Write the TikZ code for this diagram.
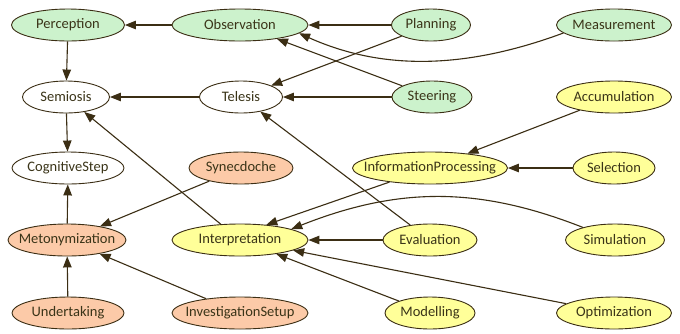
\documentclass[tikz,border=0pt]{standalone}
\usepackage{fontspec}
\setmainfont{Carlito}
\usetikzlibrary{shapes.geometric,arrows.meta}
\definecolor{edgec}{HTML}{3B2E14}
\definecolor{txtc}{HTML}{3A3418}
\definecolor{gfill}{HTML}{CCF2CC}
\definecolor{yfill}{HTML}{FFFF99}
\definecolor{ofill}{HTML}{FCCAA8}
\begin{document}
\begin{tikzpicture}[x=1pt,y=-1pt,
  concept/.style={ellipse, draw=edgec, line width=0.9pt, minimum height=32pt, inner sep=0pt, minimum width=#1},
  lbl/.style={font=\fontsize{14.5}{16}\selectfont, text=txtc, inner sep=0pt},
  gnode/.style={concept=#1, fill=gfill},
  ynode/.style={concept=#1, fill=yfill},
  onode/.style={concept=#1, fill=ofill},
  wnode/.style={concept=#1, fill=white},
  arr/.style={draw=edgec, line width=1.1pt, -{Triangle[length=11pt,width=8.5pt]}}]
\useasboundingbox[fill=white] (0,0) rectangle (680,333);
% nodes
\node[gnode=113pt, label={[lbl]center:Perception}] (perc) at (68,25) {};
\node[gnode=136pt, label={[lbl]center:Observation}] (obs) at (240,25) {};
\node[gnode=79pt, label={[lbl]center:Planning}] (plan) at (431,25) {};
\node[gnode=115pt, label={[lbl]center:Measurement}] (meas) at (614,25) {};
\node[wnode=87pt, label={[lbl]center:Semiosis}] (semi) at (66,97) {};
\node[wnode=83pt, label={[lbl]center:Telesis}] (tele) at (241,97) {};
\node[gnode=80pt, label={[lbl]center:Steering}] (steer) at (432,97) {};
\node[ynode=115pt, label={[lbl]center:Accumulation}] (accu) at (614,97) {};
\node[wnode=112pt, label={[lbl]center:CognitiveStep}] (cog) at (68,168) {};
\node[onode=104pt, label={[lbl]center:Synecdoche}] (syn) at (241,168) {};
\node[ynode=155pt, label={[lbl]center:InformationProcessing}] (info) at (430,168) {};
\node[ynode=82pt, label={[lbl]center:Selection}] (sel) at (614,168) {};
\node[onode=118pt, label={[lbl]center:Metonymization}] (meto) at (67,240) {};
\node[ynode=136pt, label={[lbl]center:Interpretation}] (interp) at (240,240) {};
\node[ynode=94pt, label={[lbl]center:Evaluation}] (eval) at (430,240) {};
\node[ynode=99pt, label={[lbl]center:Simulation}] (simu) at (615,240) {};
\node[onode=112pt, label={[lbl]center:Undertaking}] (under) at (68,313) {};
\node[onode=136pt, label={[lbl]center:InvestigationSetup}] (invest) at (240,313) {};
\node[ynode=90pt, label={[lbl]center:Modelling}] (model) at (430,313) {};
\node[ynode=115pt, label={[lbl]center:Optimization}] (optim) at (614,313) {};
% edges
\draw[arr] (obs) -- (perc);
\draw[arr] (perc) -- (semi);
\draw[arr] (semi) -- (cog);
\draw[arr] (plan) -- (obs);
\draw[arr] (plan) -- (tele);
\draw[arr] (meas.189) .. controls (450,75) and (370,65) .. (obs.-8);
\draw[arr] (steer) -- (obs);
\draw[arr] (steer) -- (tele);
\draw[arr] (tele) -- (semi);
\draw[arr] (eval) -- (tele);
\draw[arr] (interp) -- (semi);
\draw[arr] (syn) -- (meto);
\draw[arr] (meto) -- (cog);
\draw[arr] (under) -- (meto);
\draw[arr] (invest) -- (meto);
\draw[arr] (accu) -- (info);
\draw[arr] (sel) -- (info);
\draw[arr] (info) -- (interp.30);
\draw[arr] (simu) .. controls (480,187) and (400,186) .. (interp.12);
\draw[arr] (eval) -- (interp);
\draw[arr] (model) -- (interp);
\draw[arr] (optim) -- (interp);
\end{tikzpicture}
\end{document}
